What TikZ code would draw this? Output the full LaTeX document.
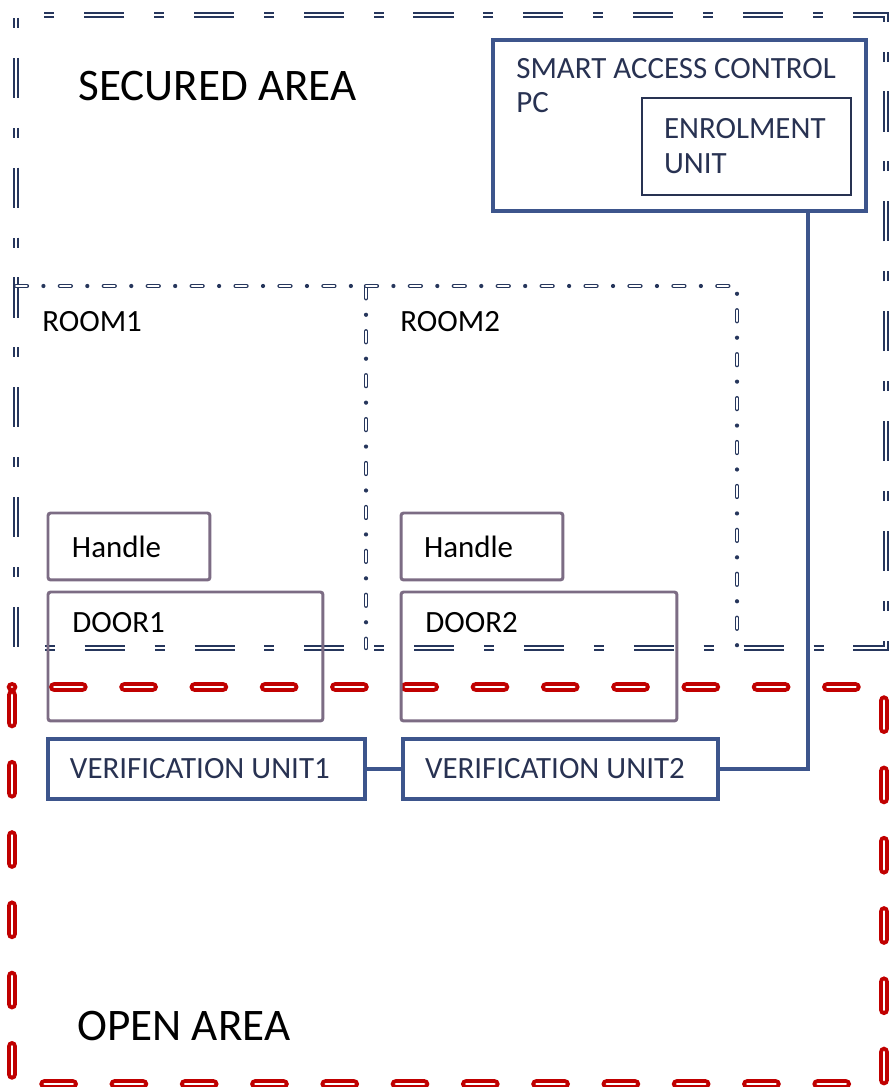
\documentclass[tikz,border=0pt]{standalone}
\usepackage{fontspec}
\setmainfont{Carlito}
\usetikzlibrary{positioning}

\definecolor{areanavy}{RGB}{38,54,92}
\definecolor{unitblue}{RGB}{61,85,140}
\definecolor{textnavy}{RGB}{40,50,82}
\definecolor{doorgray}{RGB}{124,108,132}
\definecolor{openred}{RGB}{192,0,0}

\begin{document}
\begin{tikzpicture}[
    x=0.02cm,
    y=-0.02cm,
    lbl/.style={
        font=\fontsize{17.6pt}{19.6pt}\selectfont,
        inner sep=0pt,
        anchor=base west
    },
    biglbl/.style={
        font=\fontsize{25.7pt}{30pt}\selectfont,
        inner sep=0pt,
        anchor=base west
    },
    secured/.style={
        draw=areanavy,
        line width=1.2pt,
        double=white,
        double distance=1.2pt,
        dash pattern=on 5.7pt off 17pt on 22.8pt off 17pt,
        dash phase=60.8pt
    },
    openline/.style={
        draw=openred,
        line width=2.3pt,
        double=white,
        double distance=1.5pt,
        line cap=round,
        dash pattern=on 16pt off 24pt,
        dash phase=35.5pt
    },
    roomdash/.style={
        draw=areanavy,
        line width=0.8pt,
        double=white,
        double distance=0.9pt,
        line cap=round,
        dash pattern=on 6.2pt off 18.8pt
    },
    roomdot/.style={
        draw=areanavy,
        line width=2.4pt,
        line cap=round,
        dash pattern=on 0pt off 25pt,
        dash phase=9.4pt
    },
    boxbase/.style={
        anchor=north west,
        outer sep=0pt,
        inner sep=0pt,
        align=flush left,
        font=\fontsize{17.6pt}{20pt}\selectfont
    },
    door/.style={
        boxbase,
        draw=doorgray,
        line width=1.7pt,
        rounded corners=1.5pt
    },
    unit/.style={
        boxbase,
        draw=unitblue,
        line width=1.8pt,
        text=textnavy
    },
    enrol/.style={
        boxbase,
        draw=textnavy,
        line width=1.3pt,
        text=textnavy
    },
    link/.style={
        draw=unitblue,
        line width=2pt
    }
]

\useasboundingbox (0,0) rectangle (894,1087);

% Areas
\draw[secured] (16,15) rectangle (886,648);
\draw[openline] (12,687) rectangle (884,1084);

\node[biglbl] (securedlabel) at (78,101) {SECURED AREA};
\node[biglbl] (openlabel) at (77,1040) {OPEN AREA};

% Rooms
\draw[roomdash] (16,286) -- (366,286) -- (366,648);
\draw[roomdot] (16,286) -- (366,286) -- (366,648);
\draw[roomdash] (366,286) -- (737,286) -- (737,648);
\draw[roomdot] (366,286) -- (737,286) -- (737,648);

\node[lbl] (room1) at (42,332) {ROOM1};
\node[lbl] (room2) at (400,332) {ROOM2};

% Access control PC
\node[
    unit,
    line width=2pt,
    minimum width=7.46cm,
    minimum height=3.42cm
] (pc) at (493,40) {};

\node[lbl, text=textnavy, align=left] (pclabel) at (516,113)
    {SMART ACCESS CONTROL\\PC};

\node[
    enrol,
    minimum width=4.18cm,
    minimum height=1.94cm,
    inner xsep=0.44cm,
    text width=3.3cm
] (enrolunit) at (642,98) {ENROLMENT\\UNIT};

% Handles and doors
\node[
    door,
    minimum width=3.24cm,
    minimum height=1.34cm,
    inner xsep=0.48cm,
    text width=2.28cm
] (handle1) at (48,513) {Handle};

\node[
    door,
    minimum width=3.24cm,
    minimum height=1.34cm,
    inner xsep=0.46cm,
    text width=2.32cm
] (handle2) at (401,513) {Handle};

\node[door, minimum width=5.5cm, minimum height=2.58cm] (door1) at (48,592) {};
\node[door, minimum width=5.52cm, minimum height=2.58cm] (door2) at (401,592) {};

\node[lbl] (door1label) at (72,632) {DOOR1};
\node[lbl] (door2label) at (425,632) {DOOR2};

% Verification units
\node[
    unit,
    minimum width=6.34cm,
    minimum height=1.2cm,
    inner xsep=0.44cm,
    text width=5.46cm
] (vu1) at (48,739) {VERIFICATION UNIT1};

\node[
    unit,
    minimum width=6.3cm,
    minimum height=1.2cm,
    inner xsep=0.44cm,
    text width=5.42cm
] (vu2) at (403,739) {VERIFICATION UNIT2};

% Wiring
\draw[link] (vu1) -- (vu2);
\draw[link] (vu2.east) -| ([xshift=-1.16cm]pc.south east);

\end{tikzpicture}
\end{document}
